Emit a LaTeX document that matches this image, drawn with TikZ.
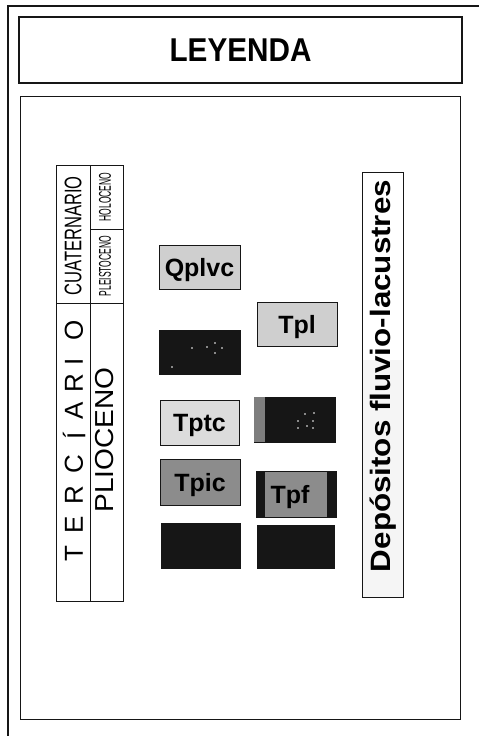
\documentclass[tikz,border=0pt]{standalone}
\usepackage{fontspec}
\usepackage{xcolor}
\usepackage{tikz}
\setmainfont{Liberation Sans}
\definecolor{ink}{HTML}{161616}
\definecolor{stipple}{HTML}{CFCFCF}
\definecolor{stipplelt}{HTML}{DCDCDC}
\definecolor{stippledk}{HTML}{8C8C8C}
\newcommand{\fsz}[1]{\fontsize{#1}{#1}\selectfont}

\begin{document}
\begin{tikzpicture}[x=1pt,y=-1pt,
  frame/.style={draw=ink,line width=1.3pt},
  cell/.style={draw=ink,line width=1pt},
  unit/.style={rectangle,draw=ink,line width=0.8pt,inner sep=0pt,
    minimum width=80pt,minimum height=45pt},
  unitlbl/.style={font=\fsz{25}\bfseries,yshift=-3pt},
  dot/.style={circle,fill=white,inner sep=0pt,minimum size=1.6pt}
]
\useasboundingbox (0,0) rectangle (479,736);
%--- outer frame and title ---
\draw[frame] (8,736) -- (8,6) -- (479,6);
\node[frame,rectangle,minimum width=443pt,minimum height=66pt] (title) at (240.5,50) {};
\node[font=\fsz{33}\bfseries] (leyenda) at (title.center) {\scalebox{0.9}[1]{LEYENDA}};
\draw[frame,line width=1pt] (20,96) rectangle (460,719);
%--- time scale columns ---
\draw[cell] (56,165) rectangle (90,601);
\draw[cell] (90,165) rectangle (123,601);
\draw[cell] (56,303) -- (123,303);
\draw[cell] (90,229) -- (123,229);
\node[rotate=90,font=\fsz{24}] (cuat) at (73,236) {\scalebox{0.69}[1]{CUATERNARIO}};
\node[rotate=90,font=\fsz{17}] (holo) at (105,197) {\scalebox{0.5}[1]{HOLOCENO}};
\node[rotate=90,font=\fsz{17}] (pleis) at (105,266) {\scalebox{0.5}[1]{PLEISTOCENO}};
\foreach \l/\y in {T/554,E/525,R/495,C/464,Í/436,A/411,R/383,I/362,O/330}
  \node[rotate=90,font=\fsz{26}] (ter\y) at (74,\y) {\l};
\node[rotate=90,font=\fsz{26}] (plio) at (105,440) {\scalebox{1.08}[1]{PLIOCENO}};
%--- map units ---
\node[unit,fill=stipple,minimum width=81pt,minimum height=44pt] (qplvc) at (199.5,267) {};
\node[unitlbl] at (qplvc) {Qplvc};
\node[unit,fill=ink,minimum width=81pt,minimum height=44pt] (blk1) at (199.5,352) {};
\node[unit,fill=stipple,minimum height=44pt] (tpl) at (297,324) {};
\node[unitlbl] at (tpl) {Tpl};
\node[unit,fill=stipplelt,minimum width=79pt] (tptc) at (199.5,422.5) {};
\node[unitlbl] at (tptc) {Tptc};
\node[unit,fill=ink,minimum width=81pt] (blk2) at (294.5,419.5) {};
\fill[stippledk!90!black] (blk2.north west) rectangle ([xshift=11pt]blk2.south west);
\node[unit,fill=stippledk,minimum height=46pt] (tpic) at (200,482) {};
\node[unitlbl] at (tpic) {Tpic};
\node[unit,fill=stippledk,minimum height=46pt] (tpf) at (296,494) {};
\fill[ink] (tpf.north west) rectangle ([xshift=9pt]tpf.south west);
\fill[ink] (tpf.north east) rectangle ([xshift=-9pt]tpf.south east);
\node[unitlbl] (tpftxt) at (290,494) {Tpf};
\node[unit,fill=ink,minimum width=79pt] (blk3) at (200.5,545.5) {};
\node[unit,fill=ink,minimum width=77pt,minimum height=43pt] (blk4) at (295.5,546.5) {};
% specks in the dark units
\foreach \x/\y in {192/348,207/347,215/343,222/348,215/353,172/367}
  \node[dot] at (\x,\y) {};
\foreach \x/\y in {305/414,314/413,298/421,313/421,307/426,298/428,313/428}
  \node[dot] at (\x,\y) {};
%--- deposit type ---
\fill[gray!8] (362,360) rectangle (403,597);
\node[cell,rectangle,minimum width=41pt,minimum height=425pt] (dep) at (382.5,384.5) {};
\node[rotate=90,font=\fsz{28}\bfseries] (deptxt) at (383,376) {\scalebox{1.12}[1]{Depósitos fluvio-lacustres}};
\end{tikzpicture}
\end{document}
